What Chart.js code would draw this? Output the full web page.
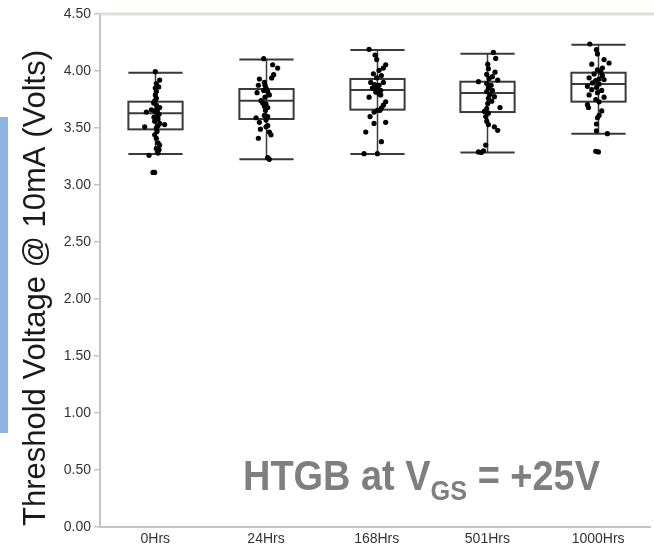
<!DOCTYPE html>
<html>
<head>
<meta charset="utf-8">
<script src="https://cdn.jsdelivr.net/npm/chart.js@4"></script>
<style>
  html, body { margin: 0; padding: 0; background: #fff; overflow: hidden; }
  #wrap { width: 654px; height: 548px; }
</style>
</head>
<body>
<div id="wrap"><canvas id="vthChart" width="654" height="548"></canvas></div>
<script>
const CATEGORIES = ['0Hrs', '24Hrs', '168Hrs', '501Hrs', '1000Hrs'];
const Y_TICKS = [0, 0.5, 1, 1.5, 2, 2.5, 3, 3.5, 4, 4.5];
const Y_TITLE = 'Threshold Voltage @ 10mA (Volts)';

// box statistics (volts)
const WHISK_HI = [3.985, 4.100, 4.185, 4.152, 4.231];
const Q3       = [3.731, 3.842, 3.930, 3.906, 3.985];
const MEDIAN   = [3.629, 3.740, 3.833, 3.807, 3.886];
const Q1       = [3.488, 3.579, 3.661, 3.640, 3.731];
const WHISK_LO = [3.272, 3.225, 3.272, 3.284, 3.450];

// individual devices (volts) and their horizontal jitter (category units)
const VTH_0HRS = [3.994, 3.92, 3.89, 3.86, 3.85, 3.82, 3.79, 3.76, 3.74, 3.72, 3.70, 3.68, 3.67, 3.66, 3.65, 3.64, 3.64, 3.62, 3.60, 3.595, 3.58, 3.56, 3.54, 3.52, 3.53, 3.51, 3.50, 3.47, 3.44, 3.41, 3.37, 3.35, 3.32, 3.31, 3.28, 3.26, 3.11, 3.11];
const JIT_0HRS = [0, 0.039, 0.009, 0.03, 0, 0.009, 0, 0.009, -0.004, -0.015, 0.009, 0.039, 0.024, -0.036, -0.006, 0.018, -0.081, 0.033, 0.009, -0.012, 0.024, -0.006, 0.039, 0.024, 0.084, -0.096, 0.009, 0.015, -0.006, 0.009, 0.024, 0.039, 0.009, 0.033, 0.024, -0.057, -0.021, -0.006];

const VTH_24HRS = [4.108, 4.055, 4.026, 3.968, 3.939, 3.93, 3.90, 3.875, 3.875, 3.85, 3.83, 3.81, 3.82, 3.79, 3.77, 3.74, 3.72, 3.71, 3.69, 3.68, 3.655, 3.61, 3.60, 3.59, 3.57, 3.55, 3.52, 3.49, 3.51, 3.465, 3.44, 3.41, 3.24, 3.225];
const JIT_24HRS = [-0.021, 0.06, 0.105, 0.069, 0.051, -0.06, -0.015, -0.069, -0.009, 0, -0.021, -0.081, 0.015, 0.03, -0.009, -0.045, -0.03, 0, -0.015, 0.015, -0.006, -0.015, 0.015, -0.09, 0, -0.06, 0.015, -0.051, 0, 0.03, 0.045, -0.069, 0.015, 0.03];

const VTH_168HRS = [4.19, 4.14, 4.10, 4.055, 4.026, 4.006, 3.976, 3.96, 3.94, 3.90, 3.90, 3.88, 3.875, 3.85, 3.845, 3.83, 3.815, 3.80, 3.79, 3.77, 3.73, 3.70, 3.675, 3.655, 3.64, 3.655, 3.60, 3.54, 3.55, 3.465, 3.38, 3.275, 3.275];
const JIT_168HRS = [-0.069, -0.015, 0, 0.081, 0.06, 0.021, -0.03, 0.042, 0, -0.054, 0.06, -0.018, 0.021, -0.039, 0.006, 0.036, -0.009, 0.021, 0.036, -0.069, 0.081, 0.06, 0.042, 0.03, -0.024, 0.006, -0.06, -0.024, 0.081, -0.099, 0.042, -0.114, 0.006];

const VTH_501HRS = [4.164, 4.11, 4.06, 4.02, 3.99, 3.97, 3.95, 3.935, 3.906, 3.92, 3.89, 3.875, 3.85, 3.83, 3.82, 3.795, 3.775, 3.76, 3.735, 3.715, 3.68, 3.67, 3.645, 3.63, 3.60, 3.56, 3.53, 3.51, 3.48, 3.35, 3.29, 3.285, 3.30];
const JIT_501HRS = [0.054, 0.075, 0.003, 0.009, 0.069, -0.006, 0.045, 0.015, -0.081, 0.093, -0.006, 0.033, 0.009, 0.045, -0.006, 0.024, 0.063, 0.009, 0.039, 0.003, 0.114, -0.006, -0.027, 0.009, -0.015, -0.006, 0.009, 0.063, 0.093, -0.015, -0.081, -0.057, -0.036];

const VTH_1000HRS = [4.237, 4.187, 4.15, 4.10, 4.07, 4.06, 4.026, 4.01, 3.99, 3.974, 3.96, 3.94, 3.93, 3.915, 3.925, 3.895, 3.886, 3.866, 3.857, 3.836, 3.83, 3.81, 3.79, 3.77, 3.75, 3.73, 3.705, 3.68, 3.65, 3.61, 3.59, 3.535, 3.475, 3.45, 3.295, 3.29];
const JIT_1000HRS = [-0.075, -0.015, -0.006, 0.054, 0.099, -0.057, 0.039, -0.006, 0.024, -0.036, 0.039, -0.081, 0.009, -0.021, 0.054, -0.051, 0.009, -0.096, -0.015, -0.057, 0.033, -0.006, -0.081, 0.054, -0.021, 0.009, -0.096, -0.087, 0.033, 0.009, -0.006, -0.015, -0.015, 0.084, -0.021, 0.003];

const GROUPS = [
    [VTH_0HRS, JIT_0HRS],
    [VTH_24HRS, JIT_24HRS],
    [VTH_168HRS, JIT_168HRS],
    [VTH_501HRS, JIT_501HRS],
    [VTH_1000HRS, JIT_1000HRS]
];

document.addEventListener('DOMContentLoaded', () => {
    const FONT = "'Liberation Sans', Arial, sans-serif";
    const BOX_HALF = 0.245;

    // 1. Points
    const points = [];
    GROUPS.forEach(([vals, jit], i) => {
        vals.forEach((v, k) => points.push({ x: i + jit[k], y: v }));
    });

    // 2. Box & whiskers, frame decorations, annotation
    const boxPlugin = {
        id: 'boxes',
        beforeDatasetsDraw(chart) {
            const { ctx, chartArea, scales: { x, y } } = chart;
            const half = x.getPixelForValue(BOX_HALF) - x.getPixelForValue(0);
            ctx.save();
            // light top rule at 4.50
            ctx.strokeStyle = '#e2e0d6';
            ctx.lineWidth = 3;
            ctx.beginPath();
            ctx.moveTo(chartArea.left, y.getPixelForValue(4.5));
            ctx.lineTo(chart.width, y.getPixelForValue(4.5));
            ctx.stroke();

            ctx.strokeStyle = '#3a3a3a';
            CATEGORIES.forEach((c, i) => {
                const cx = Math.round(x.getPixelForValue(i)) + 0.5;
                const hi = y.getPixelForValue(WHISK_HI[i]);
                const lo = y.getPixelForValue(WHISK_LO[i]);
                const top = y.getPixelForValue(Q3[i]);
                const bot = y.getPixelForValue(Q1[i]);
                const med = y.getPixelForValue(MEDIAN[i]);
                ctx.lineWidth = 1.5;
                ctx.beginPath();
                ctx.moveTo(cx, hi); ctx.lineTo(cx, lo);
                ctx.stroke();
                ctx.lineWidth = 2;
                ctx.beginPath();
                ctx.moveTo(cx - half, hi); ctx.lineTo(cx + half, hi);
                ctx.moveTo(cx - half, lo); ctx.lineTo(cx + half, lo);
                ctx.moveTo(cx - half, med); ctx.lineTo(cx + half, med);
                ctx.stroke();
                ctx.strokeRect(cx - half, top, 2 * half, bot - top);
            });
            ctx.restore();
        },
        afterDraw(chart) {
            const { ctx } = chart;
            ctx.save();
            // blue side bar
            ctx.fillStyle = '#8db4e2';
            ctx.fillRect(0, 117, 8, 316);

            // y axis title, a bit below the plot centre as in the original
            ctx.save();
            ctx.translate(36, 288);
            ctx.rotate(-Math.PI / 2);
            ctx.font = '31px ' + FONT;
            ctx.fillStyle = '#1a1a1a';
            ctx.textAlign = 'center';
            ctx.textBaseline = 'middle';
            ctx.fillText(Y_TITLE, 0, 0);
            ctx.restore();

            // HTGB at V_GS = +25V
            const big = 'bold 42px ' + FONT, small = 'bold 28px ' + FONT;
            const parts = [['HTGB at V', big, 0], ['GS', small, 10], [' = +25V', big, 0]];
            let total = 0;
            parts.forEach(p => { ctx.font = p[1]; total += ctx.measureText(p[0]).width; });
            const sx = 357 / total;
            ctx.translate(243, 490);
            ctx.scale(sx, 1);
            ctx.fillStyle = '#7f7f7f';
            ctx.textBaseline = 'alphabetic';
            let px = 0;
            parts.forEach(p => {
                ctx.font = p[1];
                ctx.fillText(p[0], px, p[2]);
                px += ctx.measureText(p[0]).width;
            });
            ctx.restore();
        }
    };

    // 3. Chart
    new Chart(document.getElementById('vthChart'), {
        type: 'scatter',
        data: {
            datasets: [{
                data: points,
                backgroundColor: '#000',
                borderWidth: 0,
                pointRadius: 2.6
            }]
        },
        options: {
            responsive: false,
            animation: false,
            layout: { padding: { top: 14, right: 0, left: 0, bottom: 0 } },
            plugins: { legend: { display: false }, tooltip: { enabled: false } },
            scales: {
                x: {
                    type: 'linear',
                    min: -0.5,
                    max: 4.469,
                    afterBuildTicks: (s) => { s.ticks = CATEGORIES.map((c, i) => ({ value: i })); },
                    afterFit: (s) => { s.height = 21; },
                    ticks: {
                        callback: (v) => CATEGORIES[v],
                        color: '#333',
                        padding: 4,
                        maxRotation: 0,
                        font: { family: FONT, size: 14 }
                    },
                    grid: { display: false, drawTicks: false },
                    border: { color: '#c4c4c4', width: 2 }
                },
                y: {
                    min: 0,
                    max: 4.5,
                    afterBuildTicks: (s) => { s.ticks = Y_TICKS.map(v => ({ value: v })); },
                    afterFit: (s) => { s.width = 100; },
                    ticks: {
                        callback: (v) => v.toFixed(2),
                        color: '#333',
                        padding: 3,
                        font: { family: FONT, size: 14 }
                    },
                    grid: { drawOnChartArea: false, tickLength: 6, tickColor: '#c4c4c4', lineWidth: 1.5 },
                    border: { color: '#c4c4c4', width: 2 }
                }
            }
        },
        plugins: [boxPlugin]
    });
});
</script>
</body>
</html>
